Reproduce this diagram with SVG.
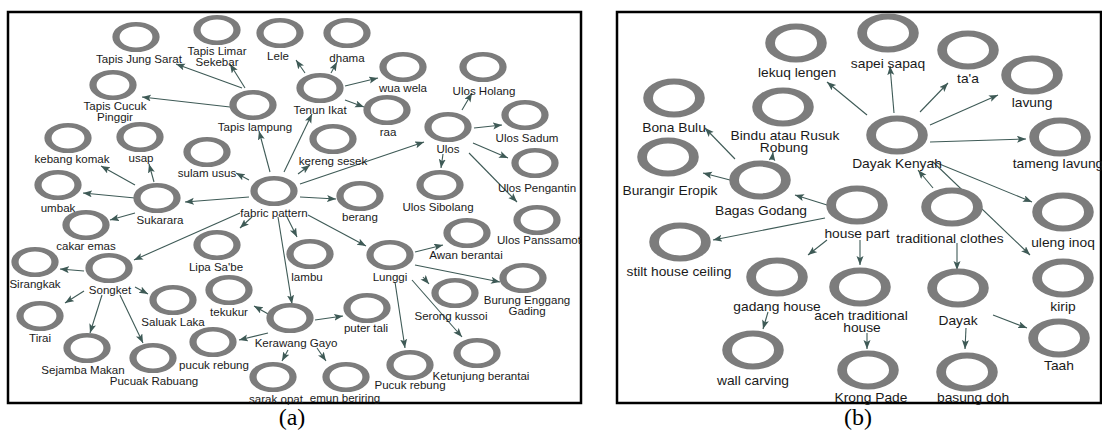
<svg xmlns="http://www.w3.org/2000/svg" xmlns:xlink="http://www.w3.org/1999/xlink" width="1102" height="431" viewBox="0 0 1102 431">
<style>
.frame{fill:#fff;stroke:#000;stroke-width:2.5}
.la{font-family:"Liberation Sans",Arial,sans-serif;font-size:10.5px;fill:#1a1a1a;text-anchor:middle}
.lb{font-family:"Liberation Sans",Arial,sans-serif;font-size:12px;fill:#1a1a1a;text-anchor:middle}
.cap{font-family:"Liberation Serif","Times New Roman",serif;font-size:24px;fill:#000;text-anchor:middle}
.e line{stroke:#3e5a56;stroke-width:1.1;marker-end:url(#ah)}
</style>
<defs>
<marker id="ah" markerUnits="userSpaceOnUse" markerWidth="10" markerHeight="8" refX="9" refY="3.5" orient="auto">
<path d="M0,0 L9,3.5 L0,7 L2,3.5 z" fill="#3e5a56"/>
</marker>
<circle id="ra" r="12.75" fill="none" stroke="#7c7c7c" stroke-width="4.6" transform="scale(1.57,1)"/>
<circle id="rb" r="16.5" fill="none" stroke="#7c7c7c" stroke-width="6.2" transform="scale(1.57,1)"/>
</defs>
<rect width="1102" height="431" fill="#fff"/>
<rect class="frame" x="8" y="12" width="573" height="391"/>
<rect class="frame" x="617" y="12" width="484" height="391"/>
<text class="cap" x="292" y="425">(a)</text>
<text class="cap" x="858" y="425">(b)</text>

<g id="connectors-a" class="e">
<line x1="270" y1="172" x2="259" y2="131"/>
<line x1="284" y1="172" x2="312" y2="114"/>
<line x1="298" y1="174" x2="310" y2="165"/>
<line x1="300" y1="184" x2="424" y2="142"/>
<line x1="300" y1="197" x2="336" y2="199"/>
<line x1="308" y1="215" x2="366" y2="246"/>
<line x1="287" y1="217" x2="297" y2="237"/>
<line x1="278" y1="217" x2="292" y2="304"/>
<line x1="252" y1="217" x2="240" y2="228"/>
<line x1="240" y1="213" x2="134" y2="260"/>
<line x1="249" y1="197" x2="185" y2="202"/>
<line x1="249" y1="180" x2="236" y2="173"/>
<line x1="242" y1="88" x2="176" y2="64"/>
<line x1="245" y1="88" x2="230" y2="64"/>
<line x1="230" y1="107" x2="142" y2="97"/>
<line x1="305" y1="73" x2="296" y2="60"/>
<line x1="331" y1="73" x2="337" y2="62"/>
<line x1="345" y1="86" x2="378" y2="78"/>
<line x1="345" y1="100" x2="364" y2="107"/>
<line x1="462" y1="110" x2="472" y2="93"/>
<line x1="474" y1="128" x2="502" y2="125"/>
<line x1="473" y1="143" x2="508" y2="158"/>
<line x1="469" y1="153" x2="517" y2="202"/>
<line x1="443" y1="154" x2="441" y2="168"/>
<line x1="135" y1="185" x2="101" y2="166"/>
<line x1="154" y1="182" x2="149" y2="164"/>
<line x1="135" y1="198" x2="83" y2="193"/>
<line x1="135" y1="213" x2="110" y2="220"/>
<line x1="84" y1="271" x2="60" y2="269"/>
<line x1="84" y1="291" x2="65" y2="303"/>
<line x1="102" y1="295" x2="90" y2="333"/>
<line x1="120" y1="295" x2="143" y2="343"/>
<line x1="135" y1="287" x2="148" y2="294"/>
<line x1="270" y1="315" x2="254" y2="306"/>
<line x1="268" y1="333" x2="239" y2="340"/>
<line x1="315" y1="320" x2="343" y2="316"/>
<line x1="288" y1="350" x2="282" y2="361"/>
<line x1="317" y1="348" x2="326" y2="361"/>
<line x1="415" y1="252" x2="443" y2="245"/>
<line x1="415" y1="265" x2="500" y2="282"/>
<line x1="423" y1="277" x2="429" y2="284"/>
<line x1="412" y1="280" x2="462" y2="337"/>
<line x1="395" y1="282" x2="405" y2="348"/>
</g>

<g id="connectors-b" class="e">
<line x1="867" y1="115" x2="827" y2="82"/>
<line x1="894" y1="113" x2="890" y2="66"/>
<line x1="920" y1="112" x2="948" y2="83"/>
<line x1="930" y1="125" x2="998" y2="95"/>
<line x1="930" y1="142" x2="1026" y2="139"/>
<line x1="937" y1="163" x2="1032" y2="202"/>
<line x1="932" y1="161" x2="1030" y2="255"/>
<line x1="933" y1="188" x2="918" y2="170"/>
<line x1="957" y1="243" x2="957" y2="270"/>
<line x1="993" y1="315" x2="1027" y2="328"/>
<line x1="966" y1="328" x2="965" y2="349"/>
<line x1="827" y1="205" x2="795" y2="195"/>
<line x1="825" y1="218" x2="713" y2="240"/>
<line x1="827" y1="240" x2="808" y2="255"/>
<line x1="860" y1="240" x2="860" y2="265"/>
<line x1="735" y1="159" x2="705" y2="128"/>
<line x1="772" y1="160" x2="773" y2="152"/>
<line x1="730" y1="180" x2="703" y2="173"/>
<line x1="768" y1="312" x2="763" y2="329"/>
<line x1="867" y1="333" x2="867" y2="349"/>
</g>

<!-- panel (a) nodes -->
<g id="a-fabric-pattern"><use href="#ra" x="274" y="191"/><text class="la" transform="translate(274,217) scale(1.1,1)">fabric pattern</text></g>
<g id="a-tapis-lampung"><use href="#ra" x="253" y="105"/><text class="la" transform="translate(255,131) scale(1.1,1)">Tapis lampung</text></g>
<g id="a-tapis-jung-sarat"><use href="#ra" x="136" y="37"/><text class="la" transform="translate(139,63) scale(1.1,1)">Tapis Jung Sarat</text></g>
<g id="a-tapis-limar-sekebar"><use href="#ra" x="217" y="30"/><text class="la" transform="translate(217,55) scale(1.1,1)">Tapis Limar</text><text class="la" transform="translate(217,66) scale(1.1,1)">Sekebar</text></g>
<g id="a-tapis-cucuk-pinggir"><use href="#ra" x="113" y="85"/><text class="la" transform="translate(115,110) scale(1.1,1)">Tapis Cucuk</text><text class="la" transform="translate(115,121) scale(1.1,1)">Pinggir</text></g>
<g id="a-lele"><use href="#ra" x="280" y="33"/><text class="la" transform="translate(278,60) scale(1.1,1)">Lele</text></g>
<g id="a-dhama"><use href="#ra" x="347" y="33"/><text class="la" transform="translate(347,62) scale(1.1,1)">dhama</text></g>
<g id="a-tenun-ikat"><use href="#ra" x="320" y="88"/><text class="la" transform="translate(320,114) scale(1.1,1)">Tenun Ikat</text></g>
<g id="a-wua-wela"><use href="#ra" x="403" y="67"/><text class="la" transform="translate(403,92) scale(1.1,1)">wua wela</text></g>
<g id="a-raa"><use href="#ra" x="387" y="110"/><text class="la" transform="translate(388,136) scale(1.1,1)">raa</text></g>
<g id="a-kereng-sesek"><use href="#ra" x="333" y="139"/><text class="la" transform="translate(333,165) scale(1.1,1)">kereng sesek</text></g>
<g id="a-sulam-usus"><use href="#ra" x="207" y="152"/><text class="la" transform="translate(207,177) scale(1.1,1)">sulam usus</text></g>
<g id="a-kebang-komak"><use href="#ra" x="68" y="138"/><text class="la" transform="translate(72,163) scale(1.1,1)">kebang komak</text></g>
<g id="a-usap"><use href="#ra" x="140" y="137"/><text class="la" transform="translate(141,162) scale(1.1,1)">usap</text></g>
<g id="a-umbak"><use href="#ra" x="58" y="185"/><text class="la" transform="translate(58,212) scale(1.1,1)">umbak</text></g>
<g id="a-sukarara"><use href="#ra" x="157" y="198"/><text class="la" transform="translate(160,224) scale(1.1,1)">Sukarara</text></g>
<g id="a-cakar-emas"><use href="#ra" x="86" y="225"/><text class="la" transform="translate(86,250) scale(1.1,1)">cakar emas</text></g>
<g id="a-lipa-sabe"><use href="#ra" x="217" y="245"/><text class="la" transform="translate(216,271) scale(1.1,1)">Lipa Sa'be</text></g>
<g id="a-lambu"><use href="#ra" x="310" y="254"/><text class="la" transform="translate(307,281) scale(1.1,1)">lambu</text></g>
<g id="a-berang"><use href="#ra" x="360" y="196"/><text class="la" transform="translate(360,221) scale(1.1,1)">berang</text></g>
<g id="a-ulos"><use href="#ra" x="448" y="127"/><text class="la" transform="translate(448,153) scale(1.1,1)">Ulos</text></g>
<g id="a-ulos-holang"><use href="#ra" x="483" y="67"/><text class="la" transform="translate(484,95) scale(1.1,1)">Ulos Holang</text></g>
<g id="a-ulos-sadum"><use href="#ra" x="525" y="115"/><text class="la" transform="translate(527,142) scale(1.1,1)">Ulos Sadum</text></g>
<g id="a-ulos-pengantin"><use href="#ra" x="535" y="163"/><text class="la" transform="translate(537,192) scale(1.1,1)">Ulos Pengantin</text></g>
<g id="a-ulos-panssamot"><use href="#ra" x="537" y="220"/><text class="la" transform="translate(539,244) scale(1.1,1)">Ulos Panssamot</text></g>
<g id="a-ulos-sibolang"><use href="#ra" x="440" y="185"/><text class="la" transform="translate(438,211) scale(1.1,1)">Ulos Sibolang</text></g>
<g id="a-lunggi"><use href="#ra" x="390" y="255"/><text class="la" transform="translate(390,281) scale(1.1,1)">Lunggi</text></g>
<g id="a-awan-berantai"><use href="#ra" x="467" y="233"/><text class="la" transform="translate(466,259) scale(1.1,1)">Awan berantai</text></g>
<g id="a-burung-enggang-gading"><use href="#ra" x="523" y="278"/><text class="la" transform="translate(527,304) scale(1.1,1)">Burung Enggang</text><text class="la" transform="translate(527,315) scale(1.1,1)">Gading</text></g>
<g id="a-serong-kussoi"><use href="#ra" x="455" y="293"/><text class="la" transform="translate(451,320) scale(1.1,1)">Serong kussoi</text></g>
<g id="a-ketunjung-berantai"><use href="#ra" x="477" y="353"/><text class="la" transform="translate(481,380) scale(1.1,1)">Ketunjung berantai</text></g>
<g id="a-pucuk-rebung-2"><use href="#ra" x="410" y="365"/><text class="la" transform="translate(410,389) scale(1.1,1)">Pucuk rebung</text></g>
<g id="a-kerawang-gayo"><use href="#ra" x="290" y="318"/><text class="la" transform="translate(296,347) scale(1.1,1)">Kerawang Gayo</text></g>
<g id="a-puter-tali"><use href="#ra" x="367" y="308"/><text class="la" transform="translate(366,332) scale(1.1,1)">puter tali</text></g>
<g id="a-emun-beriring"><use href="#ra" x="346" y="377"/><text class="la" transform="translate(345,402) scale(1.1,1)">emun beriring</text></g>
<g id="a-sarak-opat"><use href="#ra" x="273" y="377"/><text class="la" transform="translate(276,403) scale(1.1,1)">sarak opat</text></g>
<g id="a-tekukur"><use href="#ra" x="229" y="290"/><text class="la" transform="translate(229,316) scale(1.1,1)">tekukur</text></g>
<g id="a-pucuk-rebung"><use href="#ra" x="213" y="342"/><text class="la" transform="translate(214,369) scale(1.1,1)">pucuk rebung</text></g>
<g id="a-songket"><use href="#ra" x="109" y="268"/><text class="la" transform="translate(110,294) scale(1.1,1)">Songket</text></g>
<g id="a-sirangkak"><use href="#ra" x="35" y="262"/><text class="la" transform="translate(35,288) scale(1.1,1)">Sirangkak</text></g>
<g id="a-tirai"><use href="#ra" x="40" y="316"/><text class="la" transform="translate(40,342) scale(1.1,1)">Tirai</text></g>
<g id="a-sejamba-makan"><use href="#ra" x="87" y="348"/><text class="la" transform="translate(83,374) scale(1.1,1)">Sejamba Makan</text></g>
<g id="a-pucuak-rabuang"><use href="#ra" x="153" y="358"/><text class="la" transform="translate(154,385) scale(1.1,1)">Pucuak Rabuang</text></g>
<g id="a-saluak-laka"><use href="#ra" x="173" y="300"/><text class="la" transform="translate(173,326) scale(1.1,1)">Saluak Laka</text></g>

<!-- panel (b) nodes -->
<g id="b-dayak-kenyah"><use href="#rb" x="897" y="135"/><text class="lb" transform="translate(897,168) scale(1.15,1)">Dayak Kenyah</text></g>
<g id="b-lekuq-lengen"><use href="#rb" x="796" y="43"/><text class="lb" transform="translate(797,77) scale(1.15,1)">lekuq lengen</text></g>
<g id="b-sapei-sapaq"><use href="#rb" x="888" y="33"/><text class="lb" transform="translate(888,68) scale(1.15,1)">sapei sapaq</text></g>
<g id="b-taa"><use href="#rb" x="968" y="50"/><text class="lb" transform="translate(968,83) scale(1.15,1)">ta'a</text></g>
<g id="b-lavung"><use href="#rb" x="1032" y="75"/><text class="lb" transform="translate(1032,107) scale(1.15,1)">lavung</text></g>
<g id="b-tameng-lavung"><use href="#rb" x="1060" y="137"/><text class="lb" transform="translate(1058,168) scale(1.15,1)">tameng lavung</text></g>
<g id="b-uleng-inoq"><use href="#rb" x="1063" y="212"/><text class="lb" transform="translate(1063,247) scale(1.15,1)">uleng inoq</text></g>
<g id="b-kirip"><use href="#rb" x="1063" y="278"/><text class="lb" transform="translate(1063,311) scale(1.15,1)">kirip</text></g>
<g id="b-taah"><use href="#rb" x="1059" y="338"/><text class="lb" transform="translate(1059,370) scale(1.15,1)">Taah</text></g>
<g id="b-traditional-clothes"><use href="#rb" x="952" y="207"/><text class="lb" transform="translate(950,243) scale(1.15,1)">traditional clothes</text></g>
<g id="b-dayak"><use href="#rb" x="958" y="288"/><text class="lb" transform="translate(958,325) scale(1.15,1)">Dayak</text></g>
<g id="b-basung-doh"><use href="#rb" x="967" y="372"/><text class="lb" transform="translate(973,402) scale(1.15,1)">basung doh</text></g>
<g id="b-house-part"><use href="#rb" x="857" y="205"/><text class="lb" transform="translate(857,238) scale(1.15,1)">house part</text></g>
<g id="b-aceh-traditional-house"><use href="#rb" x="860" y="287"/><text class="lb" transform="translate(861,320) scale(1.15,1)">aceh traditional</text><text class="lb" transform="translate(862,332) scale(1.15,1)">house</text></g>
<g id="b-krong-pade"><use href="#rb" x="868" y="370"/><text class="lb" transform="translate(871,402) scale(1.15,1)">Krong Pade</text></g>
<g id="b-gadang-house"><use href="#rb" x="777" y="277"/><text class="lb" transform="translate(777,311) scale(1.15,1)">gadang house</text></g>
<g id="b-wall-carving"><use href="#rb" x="753" y="350"/><text class="lb" transform="translate(753,385) scale(1.15,1)">wall carving</text></g>
<g id="b-stilt-house-ceiling"><use href="#rb" x="680" y="242"/><text class="lb" transform="translate(679,276) scale(1.15,1)">stilt house ceiling</text></g>
<g id="b-bagas-godang"><use href="#rb" x="760" y="180"/><text class="lb" transform="translate(761,215) scale(1.15,1)">Bagas Godang</text></g>
<g id="b-burangir-eropik"><use href="#rb" x="668" y="157"/><text class="lb" transform="translate(670,195) scale(1.15,1)">Burangir Eropik</text></g>
<g id="b-bona-bulu"><use href="#rb" x="674" y="98"/><text class="lb" transform="translate(674,132) scale(1.15,1)">Bona Bulu</text></g>
<g id="b-bindu-atau-rusuk-robung"><use href="#rb" x="783" y="107"/><text class="lb" transform="translate(785,140) scale(1.15,1)">Bindu atau Rusuk</text><text class="lb" transform="translate(784,152) scale(1.15,1)">Robung</text></g>
</svg>
